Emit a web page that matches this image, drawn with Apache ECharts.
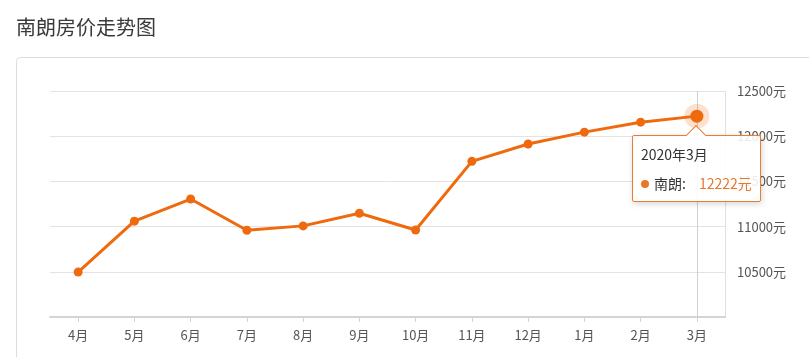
<!DOCTYPE html>
<html>
<head>
<meta charset="utf-8">
<script src="https://cdn.jsdelivr.net/npm/echarts@6/dist/echarts.min.js"></script>
<style>
html,body{margin:0;padding:0;background:#fff;}
#chart{width:809px;height:357px;}
</style>
</head>
<body>
<div id="chart"></div>
<script>
var categories = ['4月','5月','6月','7月','8月','9月','10月','11月','12月','1月','2月','3月'];
var periods = ['2019年4月','2019年5月','2019年6月','2019年7月','2019年8月','2019年9月','2019年10月','2019年11月','2019年12月','2020年1月','2020年2月','2020年3月'];
var values = [10497, 11060, 11305, 10960, 11008, 11148, 10963, 11722, 11914, 12045, 12155, 12222];
var seriesName = '南朗';
var titleText = '南朗房价走势图';
var unit = '元';

var last = values.length - 1;
var orange = '#ef6a0e';
var tipOrange = '#e8772a';
var tipBorder = '#ec7a30';
var FONT = '"Noto Sans CJK SC", "Noto Sans", sans-serif';
var FONT_CSS = FONT.replace(/"/g, "'");

var lineData = values.map(function (v, i) {
  if (i === last) {
    return { value: v, symbolSize: 13 };
  }
  return v;
});
var haloData = values.map(function (v, i) { return i === last ? v : '-'; });

var chart = echarts.init(document.getElementById('chart'));
chart.setOption({
  animation: false,
  backgroundColor: '#fff',
  textStyle: { fontFamily: FONT },
  title: {
    text: titleText,
    left: 11,
    top: 12,
    textStyle: { fontSize: 20, fontWeight: 'normal', color: '#3a3a3a', fontFamily: FONT }
  },
  graphic: [{
    type: 'rect',
    z: -10,
    silent: true,
    shape: { x: 16.5, y: 57.5, width: 900, height: 400, r: 4 },
    style: { fill: '#fff', stroke: '#dcdcdc', lineWidth: 1 }
  }],
  grid: { left: 50, right: 84, top: 91, bottom: 40 },
  tooltip: {
    trigger: 'item',
    triggerOn: 'none',
    alwaysShowContent: true,
    position: 'bottom',
    transitionDuration: 0,
    backgroundColor: 'rgba(255,255,255,0.88)',
    borderColor: tipBorder,
    borderWidth: 1,
    padding: [8, 8],
    extraCssText: 'border:1px solid ' + tipBorder + ' !important;box-shadow:1px 2px 6px rgba(0,0,0,0.16);border-radius:2px;overflow:visible;margin-top:2px;',
    formatter: function (p) {
      return '<div style="position:absolute;left:50%;top:-8px;width:13px;height:13px;margin-left:-7px;background:#fff;border-top:1px solid ' + tipBorder + ';border-left:1px solid ' + tipBorder + ';transform:rotate(45deg);z-index:1;"></div>' +
        '<div style="position:relative;z-index:2;font-family:' + FONT_CSS + ';font-size:14px;color:#333;line-height:20px">' + periods[p.dataIndex] + '</div>' +
        '<div style="font-family:' + FONT_CSS + ';margin-top:9px;font-size:14px;line-height:20px;color:#333">' +
        '<span style="display:inline-block;width:8px;height:8px;border-radius:50%;background:' + tipOrange + ';margin-right:5px;vertical-align:middle;position:relative;top:-1px"></span>' +
        seriesName + ':<span style="margin-left:13px;color:' + tipOrange + '">' + p.value + unit + '</span></div>';
    }
  },
  xAxis: {
    type: 'category',
    data: categories,
    boundaryGap: true,
    axisLine: { show: true, lineStyle: { color: '#d4d4d4', width: 2 } },
    axisTick: { show: true, alignWithLabel: true, length: 5, lineStyle: { color: '#d4d4d4' } },
    axisLabel: { color: '#555', fontSize: 13, margin: 12, fontFamily: FONT },
    splitLine: { show: false }
  },
  yAxis: {
    type: 'value',
    position: 'right',
    min: 10000,
    max: 12500,
    interval: 500,
    axisLine: { show: true, lineStyle: { color: '#e0e0e0', width: 1 } },
    axisTick: { show: false },
    axisLabel: {
      color: '#555',
      fontSize: 13,
      margin: 12,
      fontFamily: FONT,
      showMinLabel: false,
      formatter: function (v) { return v + unit; }
    },
    splitLine: { show: true, lineStyle: { color: '#e3e3e3' } }
  },
  series: [{
    name: seriesName,
    type: 'line',
    data: lineData,
    z: 3,
    symbol: 'circle',
    symbolSize: 9,
    itemStyle: { color: orange },
    lineStyle: { color: orange, width: 3 },
    emphasis: { disabled: true }
  }, {
    name: 'halo',
    type: 'scatter',
    data: haloData,
    z: 2,
    symbol: 'circle',
    symbolSize: 25,
    itemStyle: { color: 'rgba(239,106,14,0.25)' },
    emphasis: { disabled: true },
    tooltip: { show: false },
    silent: true,
    markLine: {
      z: 1,
      silent: true,
      symbol: 'none',
      label: { show: false },
      lineStyle: { color: '#d0d0d0', type: 'solid', width: 1 },
      data: [{ xAxis: categories[last] }]
    }
  }]
});
chart.dispatchAction({ type: 'showTip', seriesIndex: 0, dataIndex: last });
</script>
</body>
</html>
